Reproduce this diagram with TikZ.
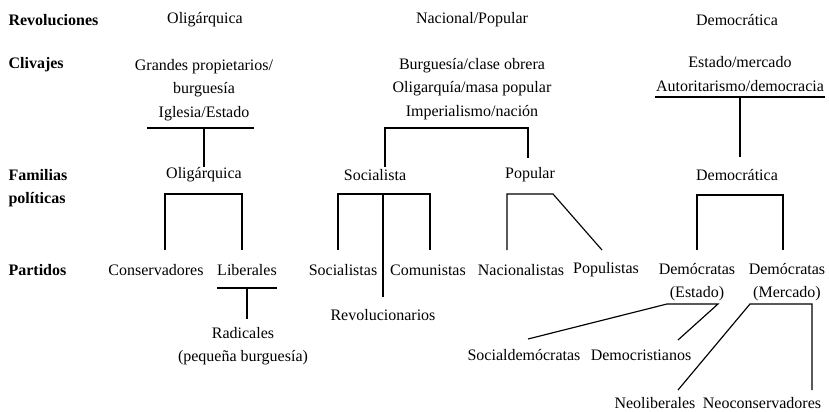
\documentclass[tikz,border=0pt]{standalone}
\usepackage{fontspec}
\setmainfont{Liberation Serif}
\usetikzlibrary{positioning}

\begin{document}
\begin{tikzpicture}[x=0.6pt,y=-0.6pt,line width=0.7pt,
  txt/.style={inner sep=0pt,align=center,font=\fontsize{9.6}{14}\selectfont},
  hdr/.style={inner sep=0pt,align=left,anchor=west,font=\fontsize{9.6}{14}\selectfont\bfseries}]
\useasboundingbox (0,0) rectangle (829,412);

% row headers
\node[hdr](hRev) at (8,20) {Revoluciones};
\node[hdr](hCli) at (8,65) {Clivajes};
\node[hdr](hFam) at (8,188) {Familias\\políticas};
\node[hdr](hPar) at (8,270) {Partidos};

% revolutions
\node[txt](revO) at (205,20) {Oligárquica};
\node[txt](revN) at (472,20) {Nacional/Popular};
\node[txt](revD) at (737,20) {Democrática};

% cleavages
\node[txt](cliO) at (204,90) {Grandes propietarios/\\burguesía\\Iglesia/Estado};
\node[txt](cliN) at (472,89) {Burguesía/clase obrera\\Oligarquía/masa popular\\Imperialismo/nación};
\node[txt](cliD) at (740,74) {Estado/mercado\\Autoritarismo/democracia};

% families
\node[txt](famO) at (204,175) {Oligárquica};
\node[txt](famS) at (375,175) {Socialista};
\node[txt](famP) at (530,175) {Popular};
\node[txt](famD) at (737,175) {Democrática};

% parties
\node[txt](conserv) at (156,270) {Conservadores};
\node[txt](liber) at (247,270) {Liberales};
\node[txt](radic) at (243,346) {Radicales\\(pequeña burguesía)};
\node[txt](social) at (343,270) {Socialistas};
\node[txt](comun) at (428,270) {Comunistas};
\node[txt](revol) at (383,315) {Revolucionarios};
\node[txt](nacion) at (521,270) {Nacionalistas};
\node[txt](popul) at (606,270) {Populistas};
\node[txt](demE) at (697,282) {Demócratas\\(Estado)};
\node[txt](demM) at (787,282) {Demócratas\\(Mercado)};
\node[txt](socdem) at (524,355) {Socialdemócratas};
\node[txt](demcr) at (641,355) {Democristianos};
\node[txt](neolib) at (655,403) {Neoliberales};
\node[txt](neocon) at (762,403) {Neoconservadores};

% bracket ends
\coordinate (oU) at (204,128);
\coordinate (oF) at (204,167);
\coordinate (oL) at (165,250);
\coordinate (oR) at (242,250);
\coordinate (lU) at (247,288);
\coordinate (lR) at (247,319);
\coordinate (nL) at (385,167);
\coordinate (nR) at (528,158);
\coordinate (sL) at (338,250);
\coordinate (sM) at (383,297);
\coordinate (sR) at (430,250);
\coordinate (pL) at (507,250);
\coordinate (pK) at (553,194);
\coordinate (pR) at (602,250);
\coordinate (dU) at (740,97);
\coordinate (dF) at (740,157);
\coordinate (dL) at (697,250);
\coordinate (dR) at (783,250);
\coordinate (eL) at (667,304);
\coordinate (eR) at (718,304);
\coordinate (eSd) at (528,339);
\coordinate (eDc) at (678,340);
\coordinate (mL) at (750,304);
\coordinate (mR) at (812,304);
\coordinate (mNl) at (678,390);
\coordinate (mNc) at (812,390);

% connectors
\draw (147,128) -- (254,128);
\draw (oU) -- (oF);
\draw (oL) |- (242,194) -- (oR);
\draw (217,288) -- (277,288);
\draw (lU) -- (lR);
\draw (nL) |- (528,128) -- (nR);
\draw (sL) |- (430,194) -- (sR);
\draw (sM) -- (383,194);
\draw (pL) |- (pK) -- (pR);
\draw (655,97) -- (825,97);
\draw (dU) -- (dF);
\draw (dL) |- (783,195) -- (dR);
\draw (eSd) -- (eL) -- (eR) -- (eDc);
\draw (mNl) -- (mL) -- (mR) -- (mNc);
\end{tikzpicture}
\end{document}
